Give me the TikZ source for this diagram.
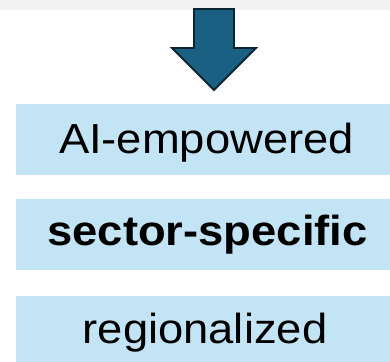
\documentclass[tikz,border=0pt]{standalone}
\usepackage{fontspec}
\setmainfont[FakeStretch=1.08]{Liberation Sans}
\definecolor{bandgray}{RGB}{242,242,242}
\definecolor{boxblue}{RGB}{194,228,244}
\definecolor{arrowfill}{RGB}{25,96,130}
\definecolor{arrowline}{RGB}{11,37,51}

\tikzset{
  tagbox/.style={fill=boxblue, draw=none, inner sep=0pt, minimum width=381pt, minimum height=71pt, anchor=north west},
  tagtext/.style={inner sep=0pt, anchor=base, font=\fontsize{42}{48}\selectfont},
}

\begin{document}
\begin{tikzpicture}[x=1pt,y=-1pt]
\useasboundingbox (0,0) rectangle (390,361);
% grey strip along the top
\fill[bandgray] (0,0) rectangle (390,10);
% down arrow
\draw[fill=arrowfill, draw=arrowline, line width=1.8pt, line join=miter]
  (194,9)--(234,9)--(234,48)--(256,48)--(214,90)--(172,48)--(194,48)--cycle;
% the three tags
\node[tagbox] (ai) at (16,104) {};
\node[tagbox] (sector) at (16,199) {};
\node[tagbox] (region) at (16,296) {};
\node[tagtext] (aitext) at (206.5,153.5) {AI-empowered};
\node[tagtext, font=\fontsize{42}{48}\selectfont\bfseries] (sectortext) at (207.5,245) {sector-specific};
\node[tagtext] (regiontext) at (205,343) {regionalized};
\end{tikzpicture}
\end{document}
